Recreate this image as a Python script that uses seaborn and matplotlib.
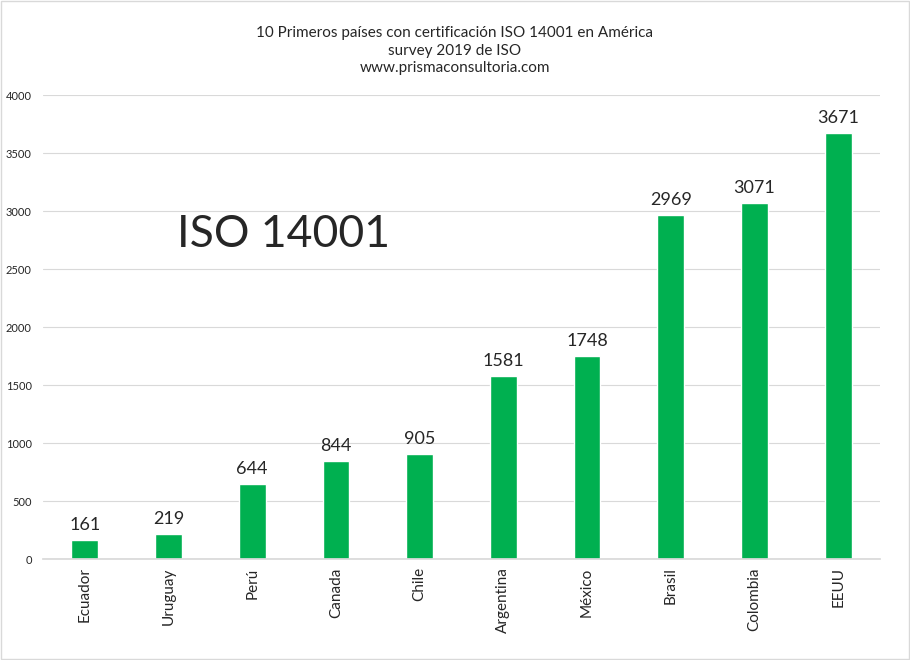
import matplotlib
matplotlib.use("Agg")
import matplotlib.pyplot as plt
import seaborn as sns
import pandas as pd

countries = ["Ecuador", "Uruguay", "Perú", "Canada", "Chile",
             "Argentina", "México", "Brasil", "Colombia", "EEUU"]
certificates = [161, 219, 644, 844, 905, 1581, 1748, 2969, 3071, 3671]
yticks = [0, 500, 1000, 1500, 2000, 2500, 3000, 3500, 4000]

sns.set_theme(style="white")
plt.rcParams["font.family"] = ["Lato", "DejaVu Sans"]

df = pd.DataFrame({"country": countries, "value": certificates})

fig = plt.figure(figsize=(9.1, 6.6), dpi=100)
ax = fig.add_axes([43 / 910, 1 - 559 / 660, 837 / 910, 464 / 660])
sns.barplot(data=df, x="country", y="value", color="#00B050",
            saturation=1, width=0.32, ax=ax)

ax.set_ylim(0, 4000)
ax.set_yticks(yticks)
ax.set_yticklabels([str(t) for t in yticks], fontsize=8)
ax.yaxis.grid(True, color="#D9D9D9", linewidth=0.8)
ax.set_axisbelow(True)
for s in ["top", "right", "left"]:
    ax.spines[s].set_visible(False)
ax.spines["bottom"].set_color("#D9D9D9")
ax.tick_params(axis="x", labelrotation=90, labelsize=11, length=0, pad=6)
ax.tick_params(axis="y", length=0, pad=8)
ax.set_xlabel("")
ax.set_ylabel("")

for i, v in enumerate(certificates):
    ax.text(i, v + 60, str(v), ha="center", va="bottom", fontsize=13)

ax.text(0.16, 0.70, "ISO 14001", transform=ax.transAxes, fontsize=32,
        ha="left", va="center")

fig.text(0.5, 0.96, "10 Primeros países con certificación ISO 14001 en América\n"
         "survey 2019 de ISO\nwww.prismaconsultoria.com",
         ha="center", va="top", fontsize=11, linespacing=1.3)

fig.patches.append(plt.Rectangle((0.001, 0.001), 0.998, 0.998,
                                 transform=fig.transFigure, fill=False,
                                 edgecolor="#D9D9D9", linewidth=1))

fig.savefig("out.png", dpi=100)
